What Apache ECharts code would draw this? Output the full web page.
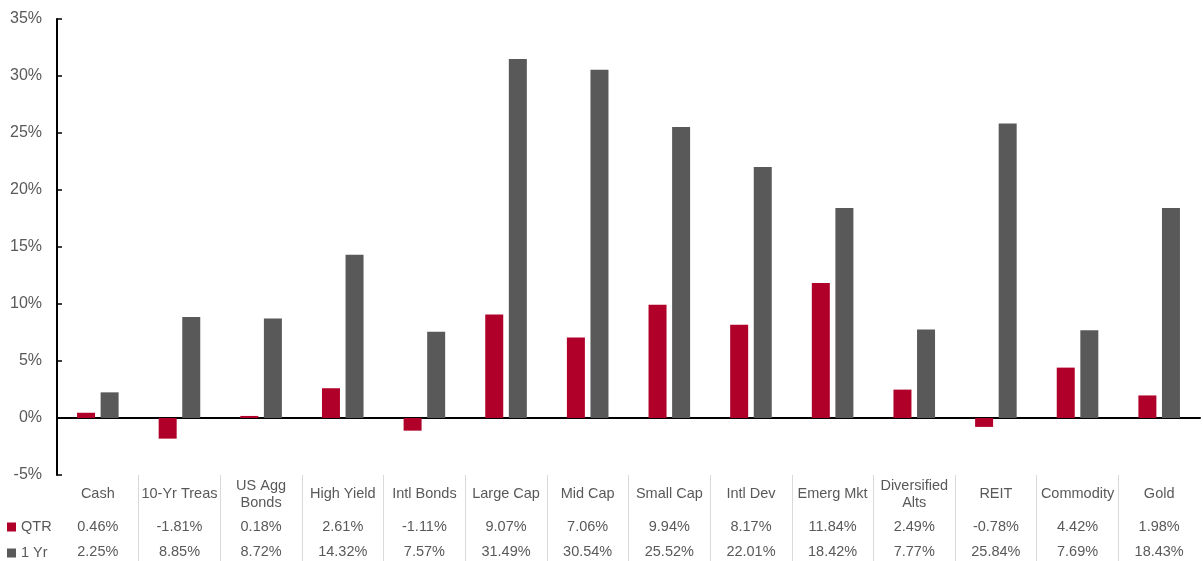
<!DOCTYPE html>
<html><head><meta charset="utf-8">
<script src="https://cdn.jsdelivr.net/npm/echarts@6/dist/echarts.min.js"></script>
<style>html,body{margin:0;padding:0;background:#fff}#c{width:1203px;height:561px}</style>
</head><body><div id="c"></div>
<script>
const categories = ["Cash","10-Yr Treas","US Agg\nBonds","High Yield","Intl Bonds","Large Cap","Mid Cap","Small Cap","Intl Dev","Emerg Mkt","Diversified\nAlts","REIT","Commodity","Gold"];
const qtr = [0.46,-1.81,0.18,2.61,-1.11,9.07,7.06,9.94,8.17,11.84,2.49,-0.78,4.42,1.98];
const oneYr = [2.25,8.85,8.72,14.32,7.57,31.49,30.54,25.52,22.01,18.42,7.77,25.84,7.69,18.43];
const seriesNames = ["QTR","1 Yr"];
const RED = "#B0002A", GRAY = "#595959", TXT = "#595959";
const F = "'Liberation Sans', Arial, sans-serif";
const fmt = v => v.toFixed(2) + "%";
const tableAxis = (margin, fn) => ({
  type: "category", gridIndex: 0, data: categories, position: "bottom", offset: 0,
  axisLine: {show: false}, axisTick: {show: false}, splitLine: {show: false},
  axisLabel: {interval: 0, margin: margin, verticalAlign: "middle", lineHeight: 17,
    color: TXT, fontFamily: F, fontSize: 14.5, formatter: fn}
});
const legendItem = (name, top) => ({
  left: 7, top: top, padding: 0, itemWidth: 9, itemHeight: 9,
  icon: "rect", data: [name], selectedMode: false,
  textStyle: {color: TXT, fontFamily: F, fontSize: 14.5, lineHeight: 17}
});
const chart = echarts.init(document.getElementById("c"), null, {renderer: "canvas"});
chart.setOption({
  animation: false,
  color: [RED, GRAY],
  legend: [legendItem(seriesNames[0], 518.5), legendItem(seriesNames[1], 544.5)],
  grid: [
    {left: 57, right: 3, top: 19, bottom: 86},
    {left: 57, right: 3, top: 475, bottom: 0}
  ],
  xAxis: [
    {type: "category", gridIndex: 0, data: categories,
     axisLine: {onZero: true, lineStyle: {color: "#000", width: 2}},
     axisTick: {show: false}, axisLabel: {show: false}},
    tableAxis(19, (v) => v),
    tableAxis(52, (v, i) => fmt(qtr[i])),
    tableAxis(77, (v, i) => fmt(oneYr[i])),
    {type: "category", gridIndex: 1, data: categories,
     axisLine: {show: false}, axisTick: {show: false}, axisLabel: {show: false},
     splitLine: {show: true, showMinLine: false, showMaxLine: false, interval: 0,
       lineStyle: {color: "#d9d9d9", width: 1}}}
  ],
  yAxis: [
    {type: "value", gridIndex: 0, min: -5, max: 35, interval: 5,
     axisLine: {show: true, lineStyle: {color: "#000", width: 2}},
     axisTick: {show: true, inside: true, length: 5, lineStyle: {color: "#000", width: 1.5}},
     splitLine: {show: false},
     axisLabel: {formatter: "{value}%", color: TXT, fontFamily: F, fontSize: 16, margin: 15}},
    {type: "value", gridIndex: 1, show: false}
  ],
  series: [
    {name: seriesNames[0], type: "bar", xAxisIndex: 0, yAxisIndex: 0, data: qtr,
     barWidth: 18, barGap: "31%", itemStyle: {color: RED}},
    {name: seriesNames[1], type: "bar", xAxisIndex: 0, yAxisIndex: 0, data: oneYr,
     barWidth: 18, barGap: "31%", itemStyle: {color: GRAY}}
  ]
});
</script></body></html>
